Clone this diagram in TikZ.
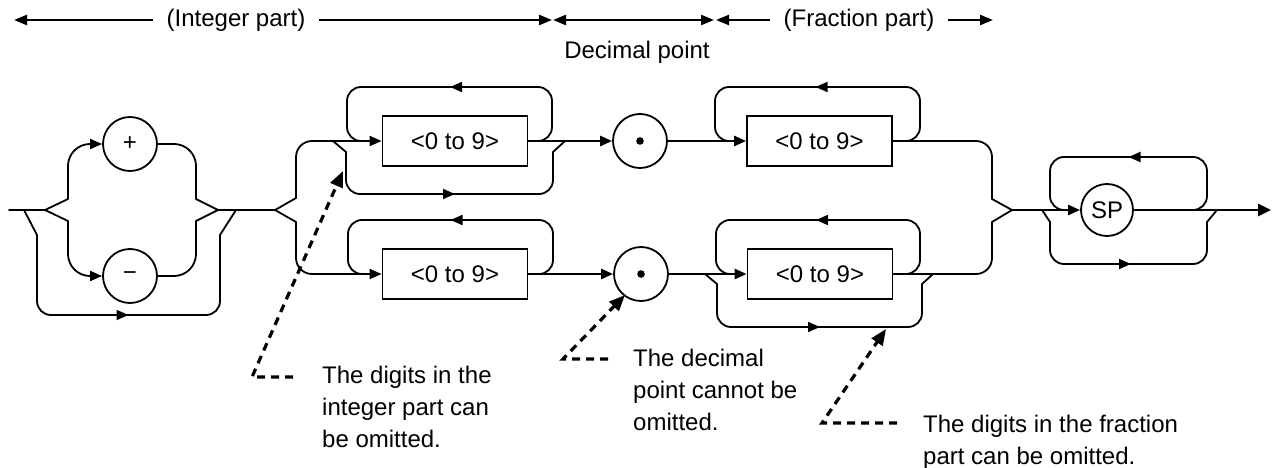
\documentclass[tikz,border=0pt]{standalone}
\usepackage{fontspec}
\setmainfont{Liberation Sans}
\usetikzlibrary{arrows.meta,decorations.markings}
\begin{document}
\begin{tikzpicture}[x=1pt,y=-1pt,
  font=\fontsize{24pt}{32pt}\selectfont,
  >={Triangle[length=12pt,width=10pt]},
  ln/.style={line width=1.8pt,line cap=round,line join=round},
  mainln/.style={line width=2.6pt,line cap=butt},
  hd/.style={line width=2.4pt,-{Triangle[length=13pt,width=10pt]}},
  hdd/.style={line width=2.4pt,{Triangle[length=13pt,width=10pt]}-{Triangle[length=13pt,width=10pt]}},
  rc/.style={rounded corners=#1},
  rc/.default=14pt,
  box/.style={draw,line width=1.8pt,minimum width=145pt,minimum height=50pt,inner sep=0pt},
  circ/.style={draw,circle,line width=1.8pt,minimum size=54pt,inner sep=0pt},
  midarr/.style={postaction={decorate},decoration={markings,mark=at position 0.5 with {\arrow{>}}}},
  dsh/.style={line width=3.2pt,dash pattern=on 8pt off 6pt,-{Triangle[length=16pt,width=13pt]}},
  hdr/.style={inner xsep=13pt,inner ysep=0pt}]
\useasboundingbox (0,0) rectangle (1273,468);

% ---------- header ----------
\node[hdr] (ip) at (236,20) {(Integer part)};
\node[hdr] (fp) at (859,20) {(Fraction part)};
\node (dp) at (637,52) {Decimal point};
\coordinate (h1) at (14,20);
\coordinate (h2) at (552,20);
\coordinate (h2a) at (553,20);
\coordinate (h3) at (714,20);
\coordinate (h3a) at (716,20);
\coordinate (h4) at (993,20);
\draw[hd] (ip.west) -- (h1);
\draw[hd] (ip.east) -- (h2);
\draw[hdd] (h2a) -- (h3);
\draw[hd] (fp.west) -- (h3a);
\draw[hd] (fp.east) -- (h4);

% ---------- sign part ----------
\coordinate (s) at (9,210);
\coordinate (f1) at (45,210);
\coordinate (m1) at (218,210);
\coordinate (f2) at (275,210);
\node[circ] (plus) at (130,144) {+};
\node[circ] (minus) at (130,276) {−};
\draw[ln] (s) -- (f1);
\draw[ln] (f1) -- (68,199);
\draw[ln,rc=22pt,->] (68,199) |- (plus.west);
\draw[ln] (f1) -- (68,221);
\draw[ln,rc=22pt,->] (68,221) |- (minus.west);
\draw[ln] (m1) -- (196,199);
\draw[ln,rc=22pt] (196,199) |- (plus.east);
\draw[ln] (m1) -- (196,221);
\draw[ln,rc=22pt] (196,221) |- (minus.east);
% bypass
\draw[ln] (24,210) -- (37,235);
\draw[ln,rc] (37,235) -- (37,315) -- (220,315) -- (220,235);
\draw[ln] (220,235) -- (236,210);
\draw[ln,midarr] (80,315) -- (177,315);
\draw[ln] (m1) -- (f2);

% ---------- upper row ----------
\node[box] (b1) at (455,141) {<0 to 9>};
\node[circ] (d1) at (640,141) {};
\fill (d1.center) circle[radius=3.8pt];
\node[box] (b2) at (819.5,141) {<0 to 9>};
\draw[ln] (f2) -- (296,198);
\draw[ln,rc=16pt,->] (296,198) |- (b1.west);
% loop over b1
\draw[ln,rc] (538,141) -| (552,87) -| (347,141) -- (361,141);
\draw[ln,midarr] (520,87) -- (380,87);
% bypass under b1
\draw[ln] (333,141) -- (346,152);
\draw[ln,rc] (346,152) -- (346,194) -- (553,194) -- (553,152);
\draw[ln] (553,152) -- (565,141);
\draw[ln,midarr] (400,194) -- (510,194);
\draw[mainln,->] (b1.east) -- (d1.west);
\draw[mainln,->] (d1.east) -- (b2.west);
% loop over b2
\draw[ln,rc] (906,141) -| (920,87) -| (715,141) -- (729,141);
\draw[ln,midarr] (890,87) -- (741,87);

% ---------- lower row ----------
\node[box] (b3) at (455,274) {<0 to 9>};
\node[circ] (d2) at (641,274) {};
\fill (d2.center) circle[radius=3.8pt];
\node[box] (b4) at (820,274) {<0 to 9>};
\draw[ln] (f2) -- (296,222);
\draw[ln,rc=16pt,->] (296,222) |- (b3.west);
% loop over b3
\draw[ln,rc] (539,274) -| (553,220) -| (348,274) -- (362,274);
\draw[ln,midarr] (520,220) -- (381,220);
\draw[mainln,->] (b3.east) -- (d2.west);
\draw[mainln,->] (d2.east) -- (b4.west);
% loop over b4
\draw[ln,rc] (906,274) -| (920,220) -| (716,274) -- (730,274);
\draw[ln,midarr] (890,220) -- (742,220);
% bypass under b4
\draw[ln] (705,274) -- (717,284);
\draw[ln,rc] (717,284) -- (717,327) -- (922,327) -- (922,284);
\draw[ln] (922,284) -- (933,274);
\draw[ln,midarr] (770,327) -- (870,327);

% ---------- merge ----------
\coordinate (m2) at (1012,210);
\draw[ln,rc=16pt] (b2.east) -| (992,199);
\draw[ln] (992,199) -- (m2);
\draw[ln,rc=16pt] (b4.east) -| (992,222);
\draw[ln] (992,222) -- (m2);

% ---------- SP ----------
\node[circ,minimum size=52pt] (sp) at (1107,210) {SP};
\coordinate (e) at (1271,210);
\draw[mainln,->] (m2) -- (sp.west);
\draw[mainln,-{Triangle[length=13pt,width=12pt]}] (sp.east) -- (e);
\draw[ln,rc] (1193,210) -| (1207,157) -| (1050,210) -- (1064,210);
\draw[ln,midarr] (1182,157) -- (1075,157);
\draw[ln] (1042,210) -- (1050,222);
\draw[ln,rc] (1050,222) -- (1050,264) -- (1207,264) -- (1207,222);
\draw[ln] (1207,222) -- (1217,210);
\draw[ln,midarr] (1080,264) -- (1182,264);

% ---------- annotations ----------
\node[anchor=base west,align=left,inner sep=0pt] (a1) at (322,447)
  {The digits in the\\integer part can\\be omitted.};
\node[anchor=base west,align=left,inner sep=0pt] (a2) at (633,430)
  {The decimal\\point cannot be\\omitted.};
\node[anchor=base west,align=left,inner sep=0pt] (a3) at (923,464)
  {The digits in the fraction\\part can be omitted.};
\coordinate (c1s) at (293,377);
\coordinate (c1) at (252,377);
\coordinate (t1) at (343,171);
\coordinate (c2s) at (608,359);
\coordinate (c2) at (563,359);
\coordinate (t2) at (625,295);
\coordinate (c3s) at (897,423);
\coordinate (c3) at (822,423);
\coordinate (t3) at (886,329);
\draw[dsh] (c1s) -- (c1) -- (t1);
\draw[dsh] (c2s) -- (c2) -- (t2);
\draw[dsh] (c3s) -- (c3) -- (t3);
\end{tikzpicture}
\end{document}
